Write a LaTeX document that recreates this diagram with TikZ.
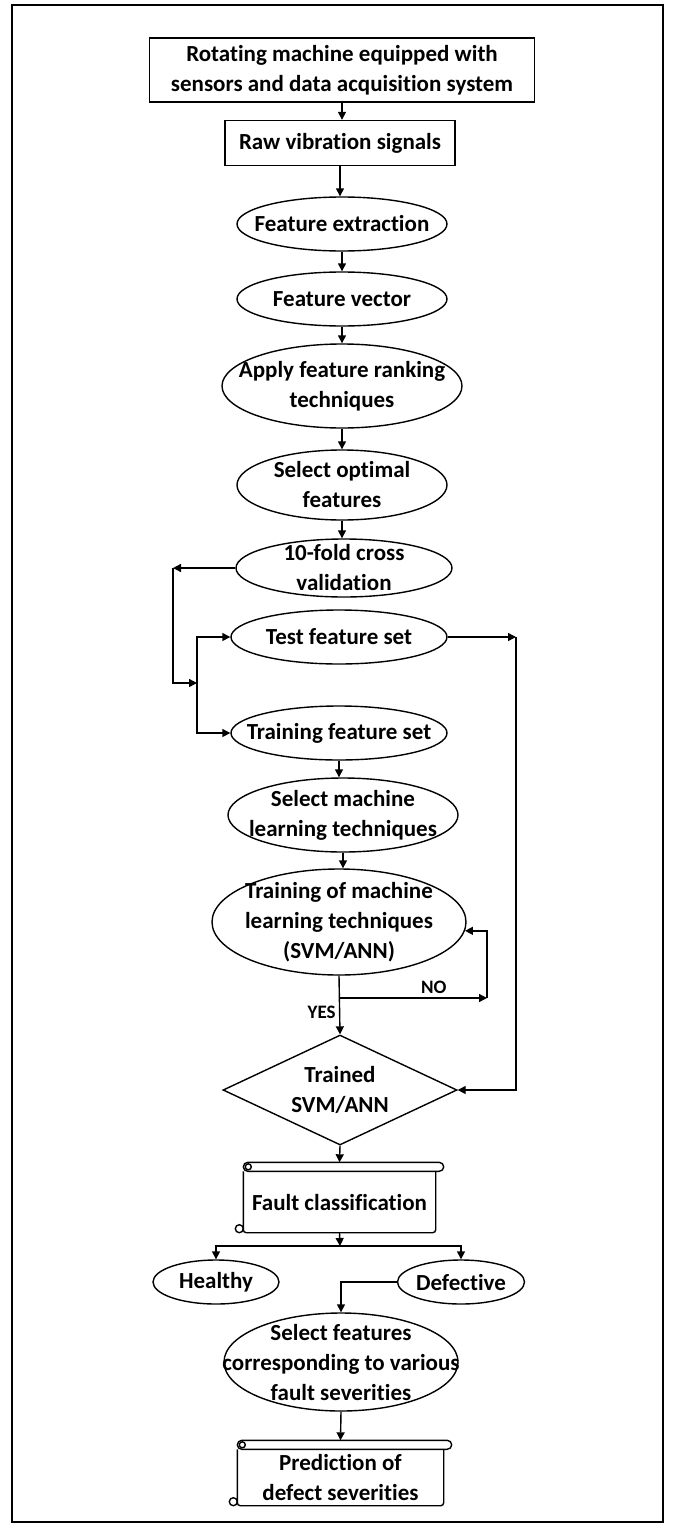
\documentclass[tikz,border=0pt]{standalone}
\usepackage{fontspec}
\setmainfont[Ligatures=NoCommon]{Carlito}
\usetikzlibrary{shapes.geometric,arrows.meta,calc}

% scroll outline drawn round a plain node
\newcommand{\drawscroll}[1]{%
  \draw[rounded corners=4.5pt] (#1.north west) rectangle ($(#1.north east)+(8,9)$);
  \draw ($(#1.north west)+(5,4.5)$) circle (3);
  \draw[rounded corners=3pt] (#1.north west) -- (#1.south west) -- (#1.south east) -- (#1.north east);
  \draw ($(#1.south west)+(-4,4)$) circle (4);
  \coordinate (#1 top) at ($(#1.north)+(0,9)$);
}

\begin{document}
\begin{tikzpicture}[x=1pt,y=1pt,line width=1.4pt,
  every node/.style={font=\fontsize{23}{30}\selectfont\bfseries, align=center},
  box/.style={draw, rectangle, inner sep=0pt},
  oval/.style={draw, ellipse, inner sep=-40pt},
  decision/.style={draw, diamond, inner sep=-60pt},
  scroll/.style={inner sep=0pt},
  arr/.style={-{Triangle[length=8pt,width=8pt]}},
  tag/.style={font=\fontsize{19}{20}\selectfont\bfseries}]
  \useasboundingbox (0,0) rectangle (675,-1528);
  \draw[line width=2pt] (12,-5) rectangle (663,-1522);

  \node[box, minimum width=385, minimum height=64] (rig) at (342,-70) {Rotating machine equipped with\\sensors and data acquisition system};
  \node[box, minimum width=230, minimum height=45] (raw) at (340,-143) {Raw vibration signals};
  \node[oval, minimum width=210, minimum height=54] (extract) at (342,-224) {Feature extraction};
  \node[oval, minimum width=210, minimum height=54] (vector) at (342,-299) {Feature vector};
  \node[oval, minimum width=240, minimum height=84] (rank) at (342,-386) {Apply feature ranking\\techniques};
  \node[oval, minimum width=210, minimum height=70] (optimal) at (342,-485) {Select optimal\\features};
  \node[oval, minimum width=216, minimum height=58] (cv) at (344,-568) {10-fold cross\\validation};
  \node[oval, minimum width=216, minimum height=54] (test) at (339,-637) {Test feature set};
  \node[oval, minimum width=216, minimum height=54] (trainset) at (339,-733) {Training feature set};
  \node[oval, minimum width=230, minimum height=74] (selml) at (343,-815) {Select machine\\learning techniques};
  \node[oval, minimum width=254, minimum height=106] (trainml) at (339,-922) {Training of machine\\learning techniques\\(SVM/ANN)};
  \node[decision, minimum width=234, minimum height=110] (trained) at (340,-1090) {Trained\\SVM/ANN};
  \node[scroll, minimum width=191, minimum height=60] (classify) at (339.5,-1202) {Fault classification};
  \node[oval, minimum width=126, minimum height=44] (healthy) at (216,-1282) {Healthy};
  \node[oval, minimum width=127, minimum height=44] (defective) at (461,-1282) {Defective};
  \node[oval, minimum width=234, minimum height=98] (severity) at (341,-1362) {Select features\\corresponding to various\\fault severities};
  \node[scroll, minimum width=205, minimum height=55] (predict) at (340.5,-1477.5) {Prediction of\\defect severities};
  \drawscroll{classify}
  \drawscroll{predict}

  \coordinate (cvleft) at (173,-568);
  \coordinate (cvjoin) at (197,-683);
  \coordinate (testright) at (516,-637);
  \coordinate (nofork) at (339,-998);
  \coordinate (noend) at (487,-998);
  \coordinate (classfork) at (340,-1246);

  \foreach \a/\b in {rig/raw, raw/extract, extract/vector, vector/rank, rank/optimal, optimal/cv, trainset/selml, selml/trainml}
    \draw[arr] (\a.south) -- (\a.south |- \b.north);

  \draw[arr] (cv.west) -- (cvleft);
  \draw[arr] (cvleft) |- (cvjoin);
  \draw[arr] (cvjoin) |- (test.west);
  \draw[arr] (cvjoin) |- (trainset.west);
  \draw[arr] (test.east) -- (testright);
  \draw[arr] (testright) |- (trained.east);
  \draw[arr] (trainml.south) -- (trained.north) node[tag, pos=0.62, left] {YES};
  \draw[arr] (nofork) -- (noend) node[tag, pos=0.64, above] {NO};
  \draw[arr] (noend) |- (trainml.-4);
  \draw[arr] (trained.south) -- (classify top);
  \draw[arr] (classify.south) -- (classfork);
  \draw[arr] (classfork) -| (healthy.north);
  \draw[arr] (classfork) -| (defective.north);
  \draw[arr] (defective.west) -| (severity.north);
  \draw[arr] (severity.south) -- (predict top);
\end{tikzpicture}
\end{document}
